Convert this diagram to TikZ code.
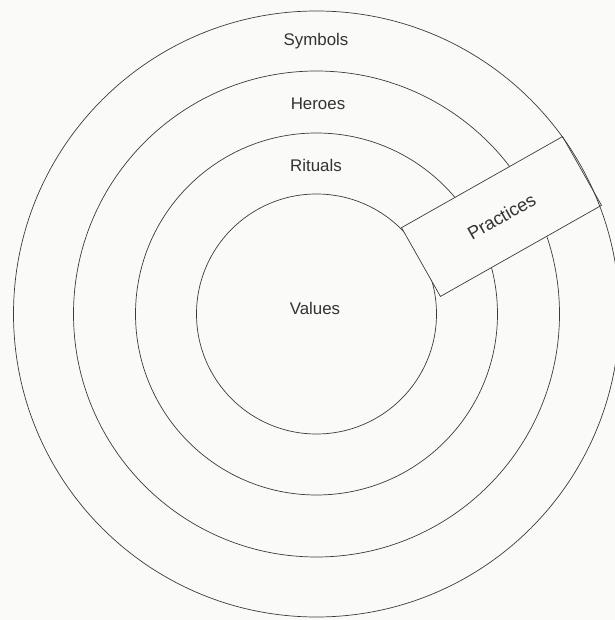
\documentclass[tikz,border=0pt]{standalone}
\usepackage{fontspec}
\setmainfont{Liberation Sans}
\usepackage{tikz}
\usepackage{xcolor}
\usetikzlibrary{positioning}
\definecolor{ringline}{RGB}{60,60,55}
\definecolor{paper}{RGB}{250,251,248}

\begin{document}
\begin{tikzpicture}[x=0.025cm, y=0.025cm]
    \useasboundingbox[fill=paper] (0,0) rectangle (615,620);
    \tikzset{ring/.style={draw=ringline, line width=0.5pt},
             layer/.style={font=\fontsize{12}{14}\selectfont, text=black!80}}
    \coordinate (c) at (316.5,306);
    \draw[ring] (c) circle[radius=120];
    \draw[ring] (c) circle[radius=181];
    \draw[ring] (c) circle[radius=243];
    \node[ring, fill=paper, rotate=29.5, minimum width=4.625cm, minimum height=1.975cm,
          inner sep=0pt, layer, font=\fontsize{13}{15}\selectfont] (practices) at (501.5,403.5) {Practices};
    \draw[ring] (c) circle[radius=303];
    \node[layer] (symbols) at (316,579) {Symbols};
    \node[layer] (heroes) at (318,516) {Heroes};
    \node[layer] (rituals) at (316,455) {Rituals};
    \node[layer] (values) at (315,312) {Values};
\end{tikzpicture}
\end{document}
